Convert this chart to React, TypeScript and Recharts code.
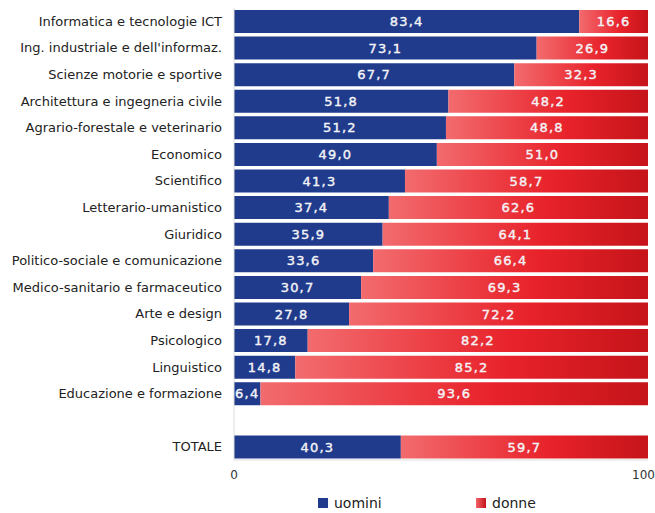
import { FC } from "react";
import {
  Bar,
  BarChart,
  LabelList,
  Legend,
  XAxis,
  YAxis,
} from "recharts";

const categories = [
  "Informatica e tecnologie ICT",
  "Ing. industriale e dell'informaz.",
  "Scienze motorie e sportive",
  "Architettura e ingegneria civile",
  "Agrario-forestale e veterinario",
  "Economico",
  "Scientifico",
  "Letterario-umanistico",
  "Giuridico",
  "Politico-sociale e comunicazione",
  "Medico-sanitario e farmaceutico",
  "Arte e design",
  "Psicologico",
  "Linguistico",
  "Educazione e formazione",
  " ",
  "TOTALE",
];

const uomini = [
  83.4, 73.1, 67.7, 51.8, 51.2, 49.0, 41.3, 37.4, 35.9, 33.6, 30.7, 27.8, 17.8,
  14.8, 6.4, null, 40.3,
];

const donne = [
  16.6, 26.9, 32.3, 48.2, 48.8, 51.0, 58.7, 62.6, 64.1, 66.4, 69.3, 72.2, 82.2,
  85.2, 93.6, null, 59.7,
];

const xTicks = [0, 100];

const BLUE = "#203b8c";

const data = categories.map((name, i) => ({
  name,
  uomini: uomini[i],
  donne: donne[i],
}));

const fmt = (v: any) =>
  v == null ? "" : Number(v).toFixed(1).replace(".", ",");

const labelStyle = {
  fill: "#f4f4f8",
  stroke: "#f4f4f8",
  strokeWidth: 0.4,
  fontSize: 13,
  fontFamily: "DejaVu Sans",
  letterSpacing: 1.2,
};

// legend drawn by hand so uomini comes first, like the original
const LegendBox = () => {
  const item = (left: number, bg: string, text: string) => (
    <div
      style={{
        position: "absolute",
        left,
        top: 5,
        display: "flex",
        alignItems: "center",
        fontSize: 14,
        lineHeight: "16px",
        color: "#222",
      }}
    >
      <span
        style={{
          display: "inline-block",
          width: 10,
          height: 10,
          background: bg,
          marginRight: 6,
        }}
      />
      {text}
    </div>
  );
  return (
    <div style={{ position: "relative", height: 20 }}>
      {item(318, BLUE, "uomini")}
      {item(476, "linear-gradient(90deg,#f2636a,#c5141a)", "donne")}
    </div>
  );
};

const App: FC = () => {
  return (
    <div style={{ fontFamily: "DejaVu Sans" }}>
      <style>{`body{margin:0}`}</style>
      <BarChart
        width={655}
        height={513}
        data={data}
        layout="vertical"
        barCategoryGap={2}
        margin={{ top: 8, right: 7, left: 0, bottom: 0 }}
      >
        <defs>
          <linearGradient id="redGrad" x1="0" y1="0" x2="1" y2="0">
            <stop offset="0%" stopColor="#f26b6e" />
            <stop offset="60%" stopColor="#e8222a" />
            <stop offset="100%" stopColor="#c5141a" />
          </linearGradient>
        </defs>
        <XAxis
          type="number"
          domain={[0, 100]}
          ticks={xTicks}
          tickLine={false}
          axisLine={{ stroke: "#dddddd" }}
          tick={{ fill: "#333333", fontSize: 12, fontFamily: "DejaVu Sans" }}
          height={30}
          tickMargin={4}
        />
        <YAxis
          type="category"
          dataKey="name"
          width={234}
          tickLine={false}
          axisLine={{ stroke: "#dddddd" }}
          tick={{ fill: "#222222", fontSize: 13, fontFamily: "DejaVu Sans" }}
          tickMargin={6}
          interval={0}
        />
        <Legend
          verticalAlign="bottom"
          content={<LegendBox />}
          wrapperStyle={{ left: 0, width: 655, height: 23 }}
        />
        <Bar dataKey="uomini" stackId="a" fill={BLUE} isAnimationActive={false}>
          <LabelList
            dataKey="uomini"
            position="center"
            formatter={fmt}
            style={labelStyle}
          />
        </Bar>
        <Bar
          dataKey="donne"
          stackId="a"
          fill="url(#redGrad)"
          isAnimationActive={false}
        >
          <LabelList
            dataKey="donne"
            position="center"
            formatter={fmt}
            style={labelStyle}
          />
        </Bar>
      </BarChart>
    </div>
  );
};

export default App;
